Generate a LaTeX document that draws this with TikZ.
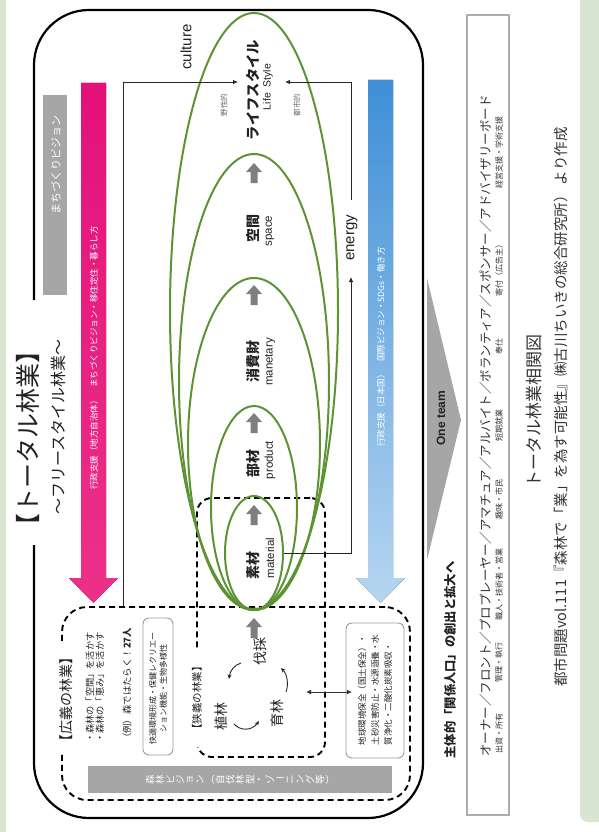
\documentclass[tikz,border=0pt]{standalone}
\usepackage{fontspec}
\setmainfont{Noto Sans CJK JP}
\newfontfamily\lat{Liberation Sans}
\usetikzlibrary{arrows.meta,shapes.geometric}
\definecolor{gbg}{HTML}{D8E5D2}
\definecolor{leaf}{HTML}{5E9334}
\definecolor{pinkA}{HTML}{E3117A}
\definecolor{pinkB}{HTML}{EC3189}
\definecolor{blueA}{HTML}{3F8FD6}
\definecolor{blueB}{HTML}{B6D6F1}
\definecolor{barg}{HTML}{A6A6A6}
\definecolor{upg}{HTML}{7F7F7F}
\definecolor{txt}{HTML}{222222}
\definecolor{boxg}{HTML}{9A9A9A}
\definecolor{capt}{HTML}{333333}
\newcommand\fsz[2]{\fontsize{#1}{#2}\selectfont}
\begin{document}
\begin{tikzpicture}[x=1pt,y=-1pt,
  frame/.style={line width=2.2pt, draw=black},
  dashbox/.style={draw, line width=1.9pt, dash pattern=on 6pt off 4pt, rounded corners=#1, rectangle, inner sep=0pt},
  ell/.style={draw=leaf, line width=2pt, ellipse, inner sep=0pt},
  rt/.style={rotate=90, inner sep=0pt, text=txt},
  conn/.style={line width=0.8pt, draw=black!85, -{Latex[length=5pt,width=4.5pt]}},
  cyc/.style={line width=0.9pt, draw=black!85, -{Stealth[length=4.5pt,width=4pt]}},
  greybox/.style={draw=boxg, line width=0.9pt, rounded corners=6pt, rectangle, inner sep=0pt},
  lbl/.style={rt, fill=white},
]
\useasboundingbox (0,0) rectangle (598,832);
% background strips
\fill[gbg] (0,0) rectangle (6,832);
\fill[gbg, rounded corners=8pt] (580,-10) -- (580,822) -- (610,822) -- (610,-10) -- cycle;

% main frame
\draw[frame, rounded corners=55pt] (34,545) -- (34,818) -- (423,818) -- (423,10) -- (34,10) -- (34,300);
\node[rt, font=\fsz{25}{28}] (title) at (28,438) {【トータル林業】};
\node[rt, font=\fsz{16}{18}] (subtitle) at (58,427) {〜フリースタイル林業〜};

% grey bar (town vision)
\fill[barg] (43,95) rectangle (67,295);
\node[rt, text=white, font=\fsz{11}{12}] (townv) at (56,165) {まちづくりビジョン};

% pink arrow
\fill[top color=pinkA, bottom color=pinkB] (81,83) -- (106,83) -- (106,578) -- (118,578) -- (93.5,603) -- (69,578) -- (81,578) -- cycle;
\node[rt, text=white, font=\fsz{8.5}{9}] (pinkT) at (94,358) {行政支援（地方自治体）\quad まちづくりビジョン・移住定住・暮らし方};

% blue arrow
\fill[top color=blueA, bottom color=blueB] (368,80) -- (393,80) -- (393,578) -- (405,578) -- (380.5,603) -- (356,578) -- (368,578) -- cycle;
\node[rt, text=white, font=\fsz{8.5}{9}] (blueT) at (381,347) {行政支援（日本国）\quad 国際ビジョン・SDGs・働き方};

% dashed boxes
\node[dashbox=25pt, minimum width=348pt, minimum height=193pt] (broad) at (236,703.5) {};
\node[dashbox=15pt, minimum width=128pt, minimum height=259pt] (narrow) at (261,627.5) {};
\node[lbl, inner xsep=6pt, inner ysep=1pt, font=\fsz{14}{16}] (broadL) at (66,699) {【広義の林業】};
\node[lbl, inner xsep=12pt, inner ysep=1pt, font=\fsz{10.5}{12}] (narrowL) at (197,698) {【狭義の林業】};

% broad box contents
\node[rt, anchor=west, font=\fsz{9.2}{10}] (t1) at (90,743) {・森林の「空間」を活かす};
\node[rt, anchor=west, font=\fsz{9.2}{10}] (t2) at (100,743) {・森林の「恵み」を活かす};
\node[rt, anchor=west, font=\fsz{9.4}{10}] (t3) at (127,743) {（例）森ではたらく！\textbf{27人}};
\node[greybox, minimum width=30pt, minimum height=137pt] (kbox) at (158,686.5) {};
\node[rt, align=center, font=\fsz{8}{10.5}] (kboxT) at (158,688) {快適環境形成・保健レクリエー\\ション機能・生物多様性};
\node[greybox, minimum width=58pt, minimum height=135pt] (ebox) at (375,690.5) {};
\node[rt, align=left, font=\fsz{8.5}{13}] (eboxT) at (375,690) {地球環境保全（国土保全）・\\土砂災害防止・水源涵養・水\\質浄化・二酸化炭素吸収・};
\fill[barg] (88,766) rectangle (392,793);
\foreach \c/\r [count=\i from 0] in {森/90,林/90,ビ/90,ジ/90,ョ/90,ン/90,（/0,自/90,伐/90,林/90,型/90,・/90,ゾ/90,ー/0,ニ/90,ン/90,グ/90,等/90,）/0}
  \node[rotate=\r, text=white, inner sep=0pt, font=\fsz{9.5}{10}] (bc\i) at (150+10*\i,779.5) {\c};

% narrow forestry cycle
\node[rt, font=\fsz{14}{15}] (plant) at (221,716) {植林};
\node[rt, font=\fsz{14}{15}] (cut) at (260,651) {伐採};
\node[rt, font=\fsz{14}{15}] (grow) at (277,713) {育林};
\coordinate (c1a) at (241,663); \coordinate (c1b) at (229,679);
\coordinate (c2a) at (234,724); \coordinate (c2b) at (259,721);
\coordinate (c3a) at (286,692); \coordinate (c3b) at (281,668);
\draw[cyc] (c1a) .. controls (234,665) and (230,671) .. (c1b);
\draw[cyc] (c2a) .. controls (240,731) and (252,731) .. (c2b);
\draw[cyc] (c3a) .. controls (289,684) and (287,674) .. (c3b);
\coordinate (dblL) at (306,692); \coordinate (dblR) at (352,692);
\draw[line width=1pt, draw=black!80, {Latex[length=5pt,width=5pt]}-{Latex[length=5pt,width=5pt]}] (dblL) -- (dblR);

% ellipses
\node[ell, minimum width=168pt, minimum height=596pt] (life) at (254,311) {};
\node[ell, minimum width=150pt, minimum height=456pt] (spc) at (254,382) {};
\node[ell, minimum width=132pt, minimum height=332pt] (mon) at (254,444) {};
\node[ell, minimum width=86pt, minimum height=204pt] (prod) at (254,508) {};
\node[ell, minimum width=58pt, minimum height=114pt] (mat) at (254,553) {};

% grey up arrows
\foreach \t in {163,285,413,505,618}
  \fill[upg] (254,\t) -- (262,\t+9) -- (257.5,\t+9) -- (257.5,\t+20) -- (250.5,\t+20) -- (250.5,\t+9) -- (246,\t+9) -- cycle;

% ellipse labels
\node[rt, font=\fsz{14.3}{15}\bfseries] (lifeT) at (253,90) {ライフスタイル};
\node[rt, font=\lat\fsz{10.5}{12}] (lifeE) at (268,87) {Life\ \ Style};
\node[rt, font=\fsz{14}{15}\bfseries] (spcT) at (253,228) {空間};
\node[rt, font=\lat\fsz{11.5}{12}] (spcE) at (270,231) {space};
\node[rt, font=\fsz{14}{15}\bfseries] (monT) at (253,361) {消費財};
\node[rt, font=\lat\fsz{11.5}{12}] (monE) at (270,362) {manetary};
\node[rt, font=\fsz{14}{15}\bfseries] (prodT) at (253,463) {部材};
\node[rt, font=\lat\fsz{11.5}{12}] (prodE) at (270,460) {product};
\node[rt, font=\fsz{14}{15}\bfseries] (matT) at (253,565) {素材};
\node[rt, font=\lat\fsz{11.5}{12}] (matE) at (270,558) {material};
\node[rt, text=black!60, font=\fsz{7.5}{8}] (wild) at (224,105) {野性的};
\node[rt, text=black!60, font=\fsz{7.5}{8}] (urban) at (297,105) {都市的};

% culture / energy connectors
\coordinate (lifeL) at (238,82);
\coordinate (lifeR) at (285,82);
\coordinate (cultBot) at (123,607);
\coordinate (enLo) at (351,277);
\coordinate (enHi) at (351,200);
\draw[conn] (cultBot) |- (lifeL);
\draw[conn] (mat.east) -| (enLo);
\draw[conn] (enHi) |- (lifeR);
\node[rt, font=\lat\fsz{15}{16}] (culture) at (186,47) {culture};
\node[rt, font=\lat\fsz{15}{16}] (energy) at (352,238) {energy};

% one team wedge
\fill[barg] (427,278) -- (461,420) -- (427,560) -- cycle;
\node[rt, font=\lat\bfseries\fsz{12}{13}] (oneteam) at (441,418) {One team};
\node[rt, font=\bfseries\fsz{12.3}{13}] (kankei) at (450,660) {主体的「関係人口」の創出と拡大へ};

% roles box
\node[draw=boxg!80, line width=1.1pt, rectangle, inner sep=0pt, minimum width=42pt, minimum height=800pt] (roles) at (488,415) {};
\node[rt, anchor=west, text=capt, font=\fsz{12.5}{13}] (roles1) at (486,757) {オーナー／フロント／プロプレーヤー／アマチュア／アルバイト／ボランティア／スポンサー／アドバイザリーボード};
\foreach \tx/\yy [count=\k] in {出資・所有/733,管理・執行/662,職人・技術者・営業/584,趣味・市民/499,短期就業/425,奉仕/346,寄付（広告主）/268,経営支援・学術支援/152}
  \node[rt, text=capt, font=\fsz{8}{9}] (rl\k) at (499,\yy) {\tx};

% captions
\node[rt, text=capt, font=\fsz{17}{18}] (cap1) at (534,411) {トータル林業相関図};
\node[rt, text=capt, font=\fsz{14.5}{15}] (cap2) at (561,407) {都市問題vol.111『森林で「業」を為す可能性』㈱古川ちいきの総合研究所）\ より作成};
\end{tikzpicture}
\end{document}
